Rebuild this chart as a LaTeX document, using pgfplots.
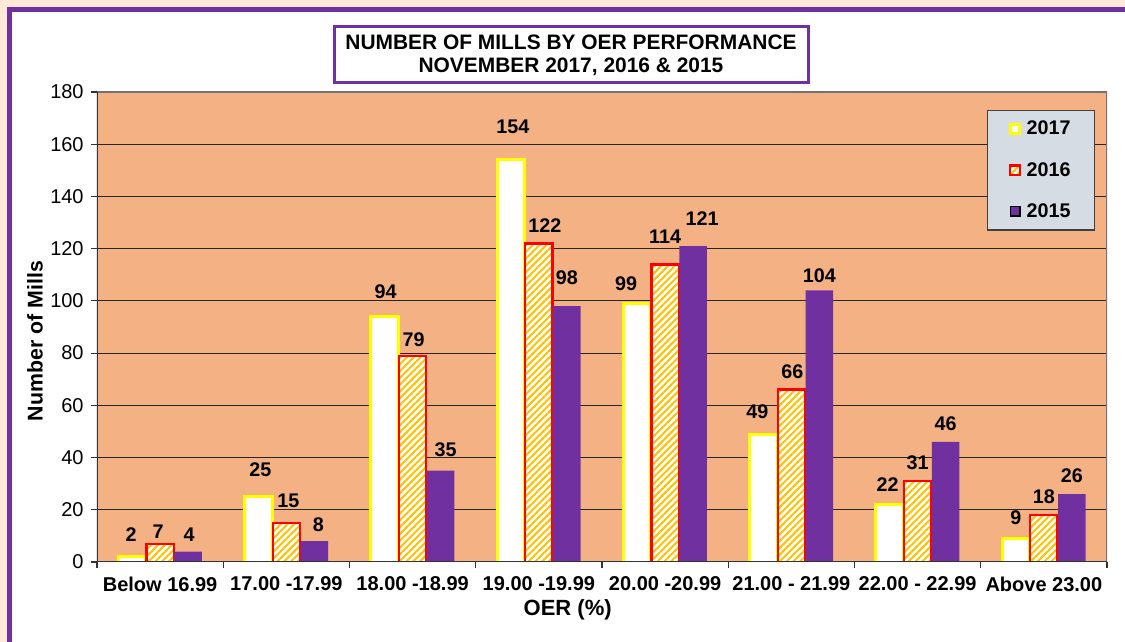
\documentclass[border=0pt]{standalone}
\usepackage{pgfplots}
\pgfplotsset{compat=1.18}
\usepackage{pgfplotstable}
\usetikzlibrary{patterns.meta}
\usepackage{fontspec}
\setmainfont{Liberation Sans}
\definecolor{plotbg}{HTML}{F4B183}
\definecolor{outerbg}{HTML}{FCE9DA}
\definecolor{mpurple}{HTML}{7030A0}
\definecolor{myellow}{HTML}{FFFF00}
\definecolor{mred}{HTML}{FF0000}
\definecolor{morange}{HTML}{FFC000}
\definecolor{leggray}{HTML}{D6DCE4}

\pgfplotstableread{
x y dx dy
0 2 -1 22
1 25 2 27
2 94 1 25
3 154 2 33
4 99 -11 20
5 49 -6 22
6 22 -2 20
7 9 0 21
}\tA
\pgfplotstableread{
x y dx dy
0 7 -2 12
1 15 2 22
2 79 1 16
3 122 6 18
4 114 0 28
5 66 1 18
6 31 0 18
7 18 0 18
}\tB
\pgfplotstableread{
x y dx dy
0 4 1 17
1 8 4 16
2 35 5 21
3 98 0 28
4 121 9 27
5 104 0 15
6 46 0 18
7 26 0 18
}\tC

\begin{document}
\begin{tikzpicture}
\path[use as bounding box] (0,0) rectangle (843.75pt,481.5pt);
\clip (0,0) rectangle (843.75pt,481.5pt);
\fill[outerbg] (0,0) rectangle (843.75pt,481.5pt);
\draw[mpurple, line width=3.75pt, fill=white] (6.75pt,474.4pt) rectangle (860pt,-10pt);

\begin{axis}[
  at={(72.75pt,60pt)}, anchor=south west,
  scale only axis, width=757.5pt, height=352.5pt,
  ybar, bar width=20.5pt,
  xmin=-0.5, xmax=7.5, ymin=0, ymax=180,
  ytick={0,20,...,180},
  xtick={0,...,7},
  xticklabels={Below 16.99,17.00 -17.99,18.00 -18.99,19.00 -19.99,20.00 -20.99,21.00 - 21.99,22.00 - 22.99,Above 23.00},
  minor xtick={-0.5,0.5,...,7.5},
  major x tick style={draw=none},
  tick align=outside, xtick pos=bottom, ytick pos=left,
  major tick length=4.5pt, minor tick length=4.5pt,
  tick style={black!80, line width=0.9pt},
  axis line style={draw=none},
  axis background/.style={fill=plotbg},
  ymajorgrids, major grid style={black!85, line width=0.75pt},
  /pgf/number format/assume math mode=true,
  xticklabel style={font=\fontsize{15pt}{18pt}\selectfont\bfseries, yshift=-3pt},
  yticklabel style={font=\fontsize{15pt}{18pt}\selectfont, xshift=-2pt},
  xlabel={OER (\%)}, ylabel={Number of Mills},
  xlabel style={font=\fontsize{16.5pt}{19pt}\selectfont\bfseries, at={(rel axis cs:0.466,-0.102)}, anchor=center},
  ylabel style={font=\fontsize{16pt}{19pt}\selectfont\bfseries, at={(rel axis cs:-0.0614,0.470)}, anchor=center, rotate=0},
  nodes near coords,
  visualization depends on={\thisrow{dx} \as \dx},
  visualization depends on={\thisrow{dy} \as \dy},
  every node near coord/.append style={font=\fontsize{14.8pt}{17pt}\selectfont\bfseries, anchor=center, xshift=\dx*0.75pt, yshift=\dy*0.75pt, black},
  legend style={at={(rel axis cs:0.881,0.962)}, anchor=north west, fill=leggray, draw=black!75, line width=1pt,
    inner xsep=16pt, inner ysep=6pt, row sep=15pt, column sep=2pt,
    font=\fontsize{14.8pt}{17pt}\selectfont\bfseries},
  legend cell align=left,
  legend image code/.code={\draw[#1] (0pt,-3.6pt) rectangle (7.2pt,3.6pt);},
]
\addplot[bar shift=-21pt, fill=white, draw=myellow, line width=2.2pt] table[x=x,y=y] {\tA};
\addplot[bar shift=0pt, fill=white, draw=mred, line width=1.8pt,
  postaction={pattern={Lines[angle=45,distance=3.6pt,line width=1.5pt]}, pattern color=morange}] table[x=x,y=y] {\tB};
\addplot[bar shift=21pt, fill=mpurple, draw=none] table[x=x,y=y] {\tC};
\legend{2017,2016,2015}
\draw[black!55, line width=2.2pt] (rel axis cs:0,1) -- (rel axis cs:1,1) -- (rel axis cs:1,0);
\draw[black!80, line width=1.3pt] (rel axis cs:0,1) -- (rel axis cs:0,0) -- (rel axis cs:1,0);
\end{axis}

\node[draw=mpurple, line width=2.25pt, fill=white, minimum width=355.5pt, minimum height=42pt, align=center,
  font=\fontsize{15.7pt}{17.25pt}\selectfont\bfseries, inner sep=2pt] at (428.25pt,440.25pt)
  {NUMBER OF MILLS BY OER PERFORMANCE\\NOVEMBER 2017, 2016 \& 2015};
\end{tikzpicture}
\end{document}
